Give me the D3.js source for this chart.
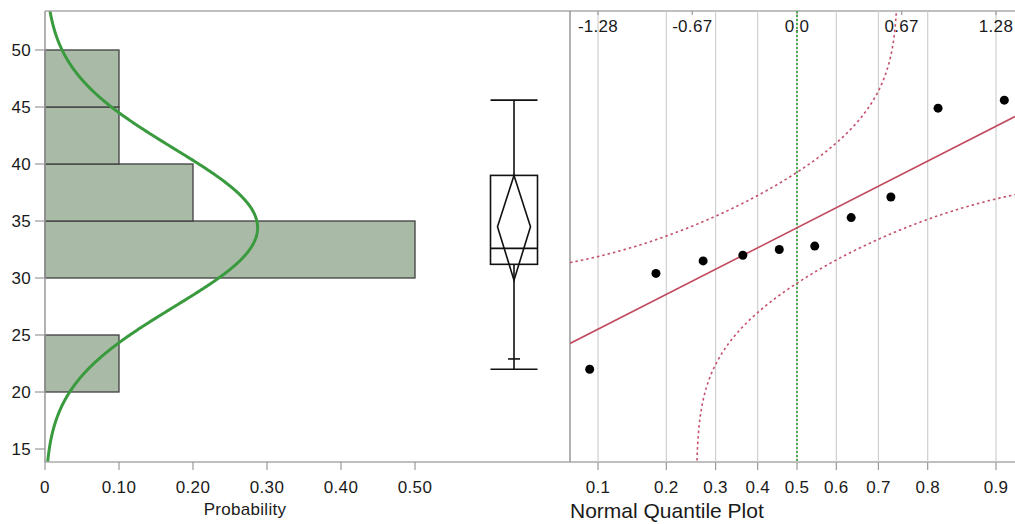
<!DOCTYPE html>
<html>
<head>
<meta charset="utf-8">
<script src="https://cdn.jsdelivr.net/npm/d3@7"></script>
<style>
  body { margin: 0; background: #fff; }
  text { font-family: "Liberation Sans", Arial, sans-serif; fill: #1a1a1a; }
  .tick-label { font-size: 17px; letter-spacing: 0.3px; }
</style>
</head>
<body>
<div id="chart"></div>
<script>
// sample values (sorted)
const values = [22.0, 30.4, 31.5, 32.0, 32.5, 32.8, 35.3, 37.1, 44.9, 45.6];

// histogram bins
const binEdges = [20, 25, 30, 35, 40, 45, 50];
const binProbs = [0.1, 0, 0.5, 0.2, 0.1, 0.1];

// axes
const yTicks = [15, 20, 25, 30, 35, 40, 45, 50];
const probTicks = [0, 0.1, 0.2, 0.3, 0.4, 0.5];
const probTickLabels = ["0", "0.10", "0.20", "0.30", "0.40", "0.50"];
const quantileTicks = [0.1, 0.2, 0.3, 0.4, 0.5, 0.6, 0.7, 0.8, 0.9];
const zTicks = [-1.2816, -0.6745, 0, 0.6745, 1.2816];
const zTickLabels = ["-1.28", "-0.67", "0.0", "0.67", "1.28"];

// box plot: low cap, q1, median, q3, high cap
const boxValues = [22.0, 31.2, 32.6, 39.0, 45.6];
// mean diamond: lower, mean, upper
const diamondValues = [29.8, 34.5, 39.0];
const shortTickValue = 22.9;

// Lilliefors band width
const bandD = 0.258;

const width = 1015, height = 524;
const plotTop = 11, plotBottom = 462, plotLeft = 45, qLeft = 570, plotRight = 1015;

const svg = d3
  .select("#chart")
  .append("svg")
  .attr("width", width)
  .attr("height", height);

const y = d3.scaleLinear().domain([13.86, 53.42]).range([plotBottom, plotTop]);
const xProb = d3.scaleLinear().domain([0, 0.5]).range([plotLeft, 415]);
const xZ = d3.scaleLinear().domain([-1.462, 1.404]).range([qLeft, plotRight]);

// normal helpers
const erf = (x) => {
  let s = x < 0 ? -1 : 1;
  x = Math.abs(x);
  let t = 1 / (1 + 0.3275911 * x);
  let yv = 1 - ((((1.061405429 * t - 1.453152027) * t + 1.421413741) * t - 0.284496736) * t + 0.254829592) * t * Math.exp(-x * x);
  return s * yv;
};
const normCdf = (z) => 0.5 * (1 + erf(z / Math.SQRT2));
const normInv = (p) => {
  // Acklam's approximation
  const a = [-3.969683028665376e1, 2.209460984245205e2, -2.759285104469687e2, 1.38357751867269e2, -3.066479806614716e1, 2.506628277459239];
  const b = [-5.447609879822406e1, 1.615858368580409e2, -1.556989798598866e2, 6.680131188771972e1, -1.328068155288572e1];
  const c = [-7.784894002430293e-3, -3.223964580411365e-1, -2.400758277161838, -2.549671010115819, 4.374664141464968, 2.938163982698783];
  const d = [7.784695709041462e-3, 3.224671290700398e-1, 2.445134137142996, 3.754408661907416];
  const pl = 0.02425;
  if (p < pl) {
    let q = Math.sqrt(-2 * Math.log(p));
    return (((((c[0] * q + c[1]) * q + c[2]) * q + c[3]) * q + c[4]) * q + c[5]) / ((((d[0] * q + d[1]) * q + d[2]) * q + d[3]) * q + 1);
  }
  if (p > 1 - pl) {
    let q = Math.sqrt(-2 * Math.log(1 - p));
    return -(((((c[0] * q + c[1]) * q + c[2]) * q + c[3]) * q + c[4]) * q + c[5]) / ((((d[0] * q + d[1]) * q + d[2]) * q + d[3]) * q + 1);
  }
  let q = p - 0.5, r = q * q;
  return (((((a[0] * r + a[1]) * r + a[2]) * r + a[3]) * r + a[4]) * r + a[5]) * q / (((((b[0] * r + b[1]) * r + b[2]) * r + b[3]) * r + b[4]) * r + 1);
};

const mean = d3.mean(values);
const sd = d3.deviation(values);

svg.append("clipPath").attr("id", "leftClip")
  .append("rect").attr("x", plotLeft).attr("y", plotTop).attr("width", qLeft - plotLeft).attr("height", plotBottom - plotTop);
svg.append("clipPath").attr("id", "qClip")
  .append("rect").attr("x", qLeft).attr("y", plotTop).attr("width", plotRight - qLeft).attr("height", plotBottom - plotTop);

// ---- histogram ----
const bars = binProbs.map((p, i) => ({ lo: binEdges[i], hi: binEdges[i + 1], p: p })).filter((d) => d.p > 0);

svg.append("g")
  .selectAll("rect")
  .data(bars)
  .enter()
  .append("rect")
  .attr("x", xProb(0))
  .attr("y", (d) => y(d.hi))
  .attr("width", (d) => xProb(d.p) - xProb(0))
  .attr("height", (d) => y(d.lo) - y(d.hi))
  .attr("fill", "#a9bba7")
  .attr("stroke", "#3f3f3f")
  .attr("stroke-width", 1.3);

// fitted normal density, scaled to bin width
const binW = binEdges[1] - binEdges[0];
const curvePts = d3.range(y.domain()[0], y.domain()[1] + 0.1, 0.1).map((v) => {
  let zz = (v - mean) / sd;
  return [binW * Math.exp(-0.5 * zz * zz) / (sd * Math.sqrt(2 * Math.PI)), v];
});
svg.append("path")
  .datum(curvePts)
  .attr("clip-path", "url(#leftClip)")
  .attr("fill", "none")
  .attr("stroke", "#3a9a3e")
  .attr("stroke-width", 3)
  .attr("d", d3.line().x((d) => xProb(d[0])).y((d) => y(d[1])));

// ---- frame ----
svg.append("line").attr("x1", plotLeft).attr("x2", plotRight).attr("y1", plotTop).attr("y2", plotTop)
  .attr("stroke", "#aaa").attr("stroke-width", 1.5);
svg.append("line").attr("x1", plotLeft).attr("x2", plotRight).attr("y1", plotBottom).attr("y2", plotBottom)
  .attr("stroke", "#aaa").attr("stroke-width", 1.5);
svg.append("line").attr("x1", plotLeft).attr("x2", plotLeft).attr("y1", plotTop).attr("y2", plotBottom)
  .attr("stroke", "#999").attr("stroke-width", 1.5);

// y axis
const yAxis = svg.append("g");
yTicks.forEach((t) => {
  yAxis.append("line").attr("x1", 35).attr("x2", plotLeft).attr("y1", y(t)).attr("y2", y(t))
    .attr("stroke", "#999").attr("stroke-width", 1.2);
  yAxis.append("text").attr("class", "tick-label").attr("x", 31).attr("y", y(t)).attr("dy", "0.35em")
    .attr("text-anchor", "end").text(t);
});

// probability axis
const pAxis = svg.append("g");
probTicks.forEach((t, i) => {
  pAxis.append("line").attr("x1", xProb(t)).attr("x2", xProb(t)).attr("y1", plotBottom).attr("y2", plotBottom + 8)
    .attr("stroke", "#999").attr("stroke-width", 1.2);
  pAxis.append("text").attr("class", "tick-label").attr("x", xProb(t)).attr("y", 493)
    .attr("text-anchor", "middle").text(probTickLabels[i]);
});
svg.append("text").attr("x", 245).attr("y", 515).attr("text-anchor", "middle")
  .style("font-size", "17px").style("letter-spacing", "0.3px").text("Probability");

// ---- box plot ----
const bx = 514, boxHalf = 23.5, diaHalf = 16.5;
const box = svg.append("g").attr("stroke", "#111").attr("stroke-width", 1.6).attr("fill", "none");
box.append("line").attr("x1", bx).attr("x2", bx).attr("y1", y(boxValues[0])).attr("y2", y(boxValues[1]));
box.append("line").attr("x1", bx).attr("x2", bx).attr("y1", y(boxValues[3])).attr("y2", y(boxValues[4]));
[boxValues[0], boxValues[4]].forEach((v) => {
  box.append("line").attr("x1", bx - boxHalf).attr("x2", bx + boxHalf).attr("y1", y(v)).attr("y2", y(v));
});
box.append("line").attr("x1", bx - 6).attr("x2", bx + 6).attr("y1", y(shortTickValue)).attr("y2", y(shortTickValue));
box.append("rect").attr("x", bx - boxHalf).attr("y", y(boxValues[3]))
  .attr("width", boxHalf * 2).attr("height", y(boxValues[1]) - y(boxValues[3]));
box.append("line").attr("x1", bx - boxHalf).attr("x2", bx + boxHalf)
  .attr("y1", y(boxValues[2])).attr("y2", y(boxValues[2]));
box.append("path").attr("d",
  `M${bx},${y(diamondValues[2])} L${bx + diaHalf},${y(diamondValues[1])} L${bx},${y(diamondValues[0])} L${bx - diaHalf},${y(diamondValues[1])} Z`);

// ---- normal quantile plot ----
const grid = svg.append("g");
quantileTicks.forEach((p) => {
  let xx = xZ(normInv(p));
  grid.append("line").attr("x1", xx).attr("x2", xx).attr("y1", plotTop).attr("y2", plotBottom)
    .attr("stroke", "#d0d0d0").attr("stroke-width", 1.2);
  grid.append("line").attr("x1", xx).attr("x2", xx).attr("y1", plotBottom).attr("y2", plotBottom + 8)
    .attr("stroke", "#999").attr("stroke-width", 1.2);
  grid.append("text").attr("class", "tick-label").attr("x", xx).attr("y", 493).attr("text-anchor", "middle")
    .text(p);
});
zTicks.forEach((z, i) => {
  grid.append("line").attr("x1", xZ(z)).attr("x2", xZ(z)).attr("y1", plotTop).attr("y2", plotTop + 4)
    .attr("stroke", "#999").attr("stroke-width", 1.2);
  grid.append("text").attr("class", "tick-label").attr("x", xZ(z)).attr("y", 32).attr("text-anchor", "middle")
    .text(zTickLabels[i]);
});
svg.append("line").attr("x1", qLeft).attr("x2", qLeft).attr("y1", plotTop).attr("y2", plotBottom)
  .attr("stroke", "#999").attr("stroke-width", 1.5);

svg.append("text").attr("x", qLeft).attr("y", 518)
  .style("font-size", "21px").text("Normal Quantile Plot");

const qPlot = svg.append("g").attr("clip-path", "url(#qClip)");

// median reference line
qPlot.append("line").attr("x1", xZ(0)).attr("x2", xZ(0)).attr("y1", plotTop).attr("y2", plotBottom)
  .attr("stroke", "#4caf50").attr("stroke-width", 2).attr("stroke-dasharray", "2,2");

// confidence bands
const zRange = d3.range(xZ.domain()[0], xZ.domain()[1] + 0.005, 0.005);
const upperBand = zRange.map((z) => [z, normCdf(z) + bandD]).filter((d) => d[1] < 0.99999)
  .map((d) => [d[0], mean + sd * normInv(d[1])]);
const lowerBand = zRange.map((z) => [z, normCdf(z) - bandD]).filter((d) => d[1] > 0.00001)
  .map((d) => [d[0], mean + sd * normInv(d[1])]);
const bandLine = d3.line().x((d) => xZ(d[0])).y((d) => y(d[1]));
[upperBand, lowerBand].forEach((b) => {
  qPlot.append("path").datum(b)
    .attr("fill", "none")
    .attr("stroke", "#c4506a")
    .attr("stroke-width", 1.6)
    .attr("stroke-dasharray", "2.5,3")
    .attr("d", bandLine);
});

// fitted line
qPlot.append("line")
  .attr("x1", xZ(xZ.domain()[0])).attr("y1", y(mean + sd * xZ.domain()[0]))
  .attr("x2", xZ(xZ.domain()[1])).attr("y2", y(mean + sd * xZ.domain()[1]))
  .attr("stroke", "#c24a5e").attr("stroke-width", 1.6);

// points at rank / (n + 1)
const n = values.length;
qPlot.selectAll("circle")
  .data(values)
  .enter()
  .append("circle")
  .attr("cx", (d, i) => xZ(normInv((i + 1) / (n + 1))))
  .attr("cy", (d) => y(d))
  .attr("r", 4.5)
  .attr("fill", "#000");
</script>
</body>
</html>
